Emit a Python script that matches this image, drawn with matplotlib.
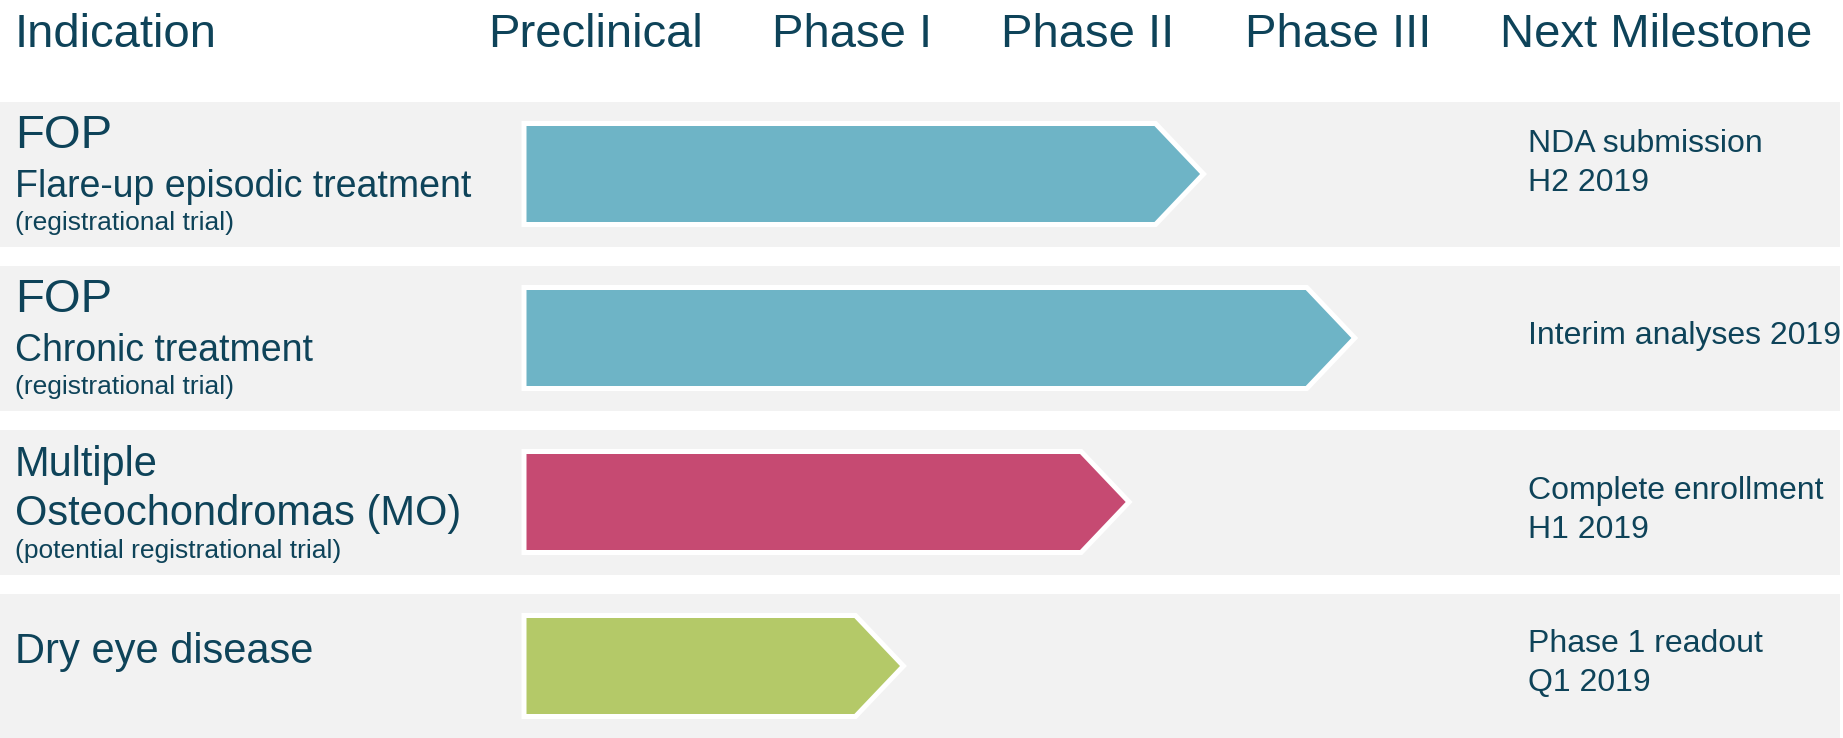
import matplotlib
matplotlib.use("Agg")
import matplotlib.pyplot as plt
from matplotlib.patches import Polygon, Rectangle

plt.rcParams['font.family'] = ['Liberation Sans', 'DejaVu Sans']

# ---------------- data ----------------
phases = ["Preclinical", "Phase I", "Phase II", "Phase III"]
left_header = "Indication"
right_header = "Next Milestone"
indications = ["FOP", "FOP", "Multiple", "Dry eye disease"]
subtitles = ["Flare-up episodic treatment", "Chronic treatment", "Osteochondromas (MO)", ""]
notes = ["(registrational trial)", "(registrational trial)", "(potential registrational trial)", ""]
progress = [2.74, 3.35, 2.44, 1.53]   # arrow tip, in phase units from start of Preclinical
milestones = ["NDA submission\nH2 2019", "Interim analyses 2019",
              "Complete enrollment\nH1 2019", "Phase 1 readout\nQ1 2019"]

# ---------------- style / layout ----------------
W, H, DPI = 1843, 738, 100
X0, PW = 524, 248      # pixel of phase 0, pixels per phase
Y0, RP = 174, 164      # pixel of first row centre, row pitch
TEXT = "#0E4359"
BAND = "#F2F2F2"
bar_colors = ["#6EB4C6", "#6EB4C6", "#C64A72", "#B4C968"]
title_sizes = [34, 34, 30, 30]
sub_sizes = [27, 27, 30, 0]
note_size = 19
ms_first_baseline = [-22, 6, -3, -14]   # px offset of first milestone line from row centre
ms_line_pitch = 39

fig = plt.figure(figsize=(W / DPI, H / DPI), dpi=DPI)
ax = fig.add_axes([0, 0, 1, 1])
ax.set_xlim((0 - X0) / PW, (W - X0) / PW)
ax.set_ylim((H - Y0) / RP, (0 - Y0) / RP)
ax.axis("off")

def px(x):
    return (x - X0) / PW

def dy(p):
    return p / RP

# headers
header_lefts = [488, 772, 1001, 1245]
hy = (47 - Y0) / RP
ax.text(px(15), hy, left_header, fontsize=34, color=TEXT, va="baseline", ha="left")
for name, xl in zip(phases, header_lefts):
    ax.text(px(xl), hy, name, fontsize=34, color=TEXT, va="baseline", ha="left")
ax.text(px(1500), hy, right_header, fontsize=34, color=TEXT, va="baseline", ha="left")

band_h = 145 / RP
bar_h = 101 / RP
notch = 48 / PW
xmin, xmax = px(0), px(1840)

for i, (ind, sub, note, p, ms) in enumerate(zip(indications, subtitles, notes, progress, milestones)):
    ax.add_patch(Rectangle((xmin, i - band_h / 2), xmax - xmin, band_h,
                           facecolor=BAND, edgecolor="none", zorder=0))
    verts = [(0, i - bar_h / 2), (p - notch, i - bar_h / 2), (p, i),
             (p - notch, i + bar_h / 2), (0, i + bar_h / 2)]
    ax.add_patch(Polygon(verts, closed=True, facecolor=bar_colors[i],
                         edgecolor="white", linewidth=3.6, joinstyle="miter", zorder=2))
    if sub:
        ax.text(px(15), i + dy(-26), ind, fontsize=title_sizes[i], color=TEXT, va="baseline")
        ax.text(px(15), i + dy(23), sub, fontsize=sub_sizes[i], color=TEXT, va="baseline")
        ax.text(px(15), i + dy(56), note, fontsize=note_size, color=TEXT, va="baseline")
    else:
        ax.text(px(15), i + dy(-3), ind, fontsize=title_sizes[i], color=TEXT, va="baseline")
    for k, line in enumerate(ms.split("\n")):
        ax.text(px(1528), i + dy(ms_first_baseline[i] + k * ms_line_pitch), line,
                fontsize=23, color=TEXT, va="baseline", ha="left")

fig.savefig("out.png", dpi=DPI, facecolor="white")
